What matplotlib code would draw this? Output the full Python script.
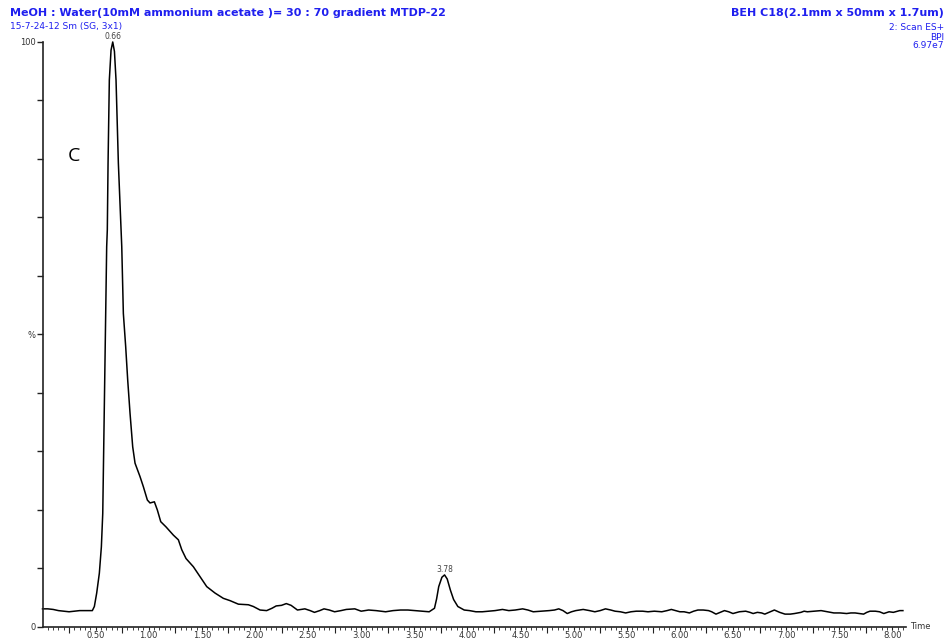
import matplotlib
matplotlib.use("Agg")
import matplotlib.pyplot as plt

# chromatogram trace (time in min, relative intensity in %)
time_min = [
    0.00, 0.05, 0.10, 0.15, 0.20, 0.25, 0.30, 0.35, 0.40, 0.46,
    0.469, 0.488, 0.51, 0.535, 0.554, 0.567, 0.576, 0.586, 0.595, 0.604,
    0.61, 0.617, 0.629, 0.645, 0.661, 0.677, 0.692, 0.714, 0.730, 0.746,
    0.761, 0.783, 0.802, 0.824, 0.849, 0.871, 0.918, 0.949, 0.987, 1.012,
    1.053, 1.081, 1.113, 1.163, 1.232, 1.279, 1.311, 1.351, 1.42, 1.483,
    1.546, 1.624, 1.702, 1.766, 1.844, 1.938, 1.985, 2.048,
    2.11, 2.16, 2.20, 2.25, 2.295, 2.34, 2.40, 2.47, 2.52, 2.56,
    2.61, 2.65, 2.70, 2.75, 2.81, 2.86, 2.94, 3.00, 3.07, 3.14,
    3.23, 3.30, 3.37, 3.44, 3.51, 3.58, 3.64, 3.69, 3.71, 3.73,
    3.76, 3.785, 3.81, 3.84, 3.87, 3.91, 3.97, 4.02, 4.08, 4.14,
    4.20, 4.26, 4.33, 4.39, 4.45, 4.52, 4.57, 4.62, 4.70, 4.77,
    4.82, 4.86, 4.90, 4.94, 4.98, 5.02, 5.09, 5.15, 5.20, 5.25,
    5.30, 5.35, 5.39, 5.44, 5.49, 5.54, 5.59, 5.65, 5.70, 5.76,
    5.83, 5.88, 5.92, 5.96, 6.00, 6.04, 6.09, 6.13, 6.17, 6.22,
    6.27, 6.30, 6.34, 6.38, 6.42, 6.46, 6.50, 6.56, 6.62, 6.66,
    6.69, 6.73, 6.77, 6.80, 6.85, 6.89, 6.94, 6.99, 7.04, 7.08,
    7.14, 7.17, 7.20, 7.26, 7.33, 7.39, 7.45, 7.51, 7.57, 7.61,
    7.65, 7.69, 7.73, 7.76, 7.79, 7.84, 7.88, 7.92, 7.97, 8.01,
    8.07, 8.10,
]
intensity = [
    3.1, 3.1, 3.0, 2.8, 2.7, 2.6, 2.7, 2.8, 2.8, 2.8,
    2.8, 3.5, 5.8, 9.2, 13.7, 19.4, 30.8, 42.2, 53.7, 65.0,
    67.9, 79.3, 93.5, 98.6, 100.0, 98.4, 93.5, 79.3, 72.0, 65.0,
    53.6, 47.9, 42.2, 36.5, 30.8, 28.0, 25.7, 24.0, 21.7, 21.2,
    21.4, 20.0, 18.0, 17.1, 15.7, 14.9, 13.2, 11.7, 10.3, 8.6,
    6.9, 5.8, 4.9, 4.5, 3.9, 3.8, 3.5, 2.9,
    2.8, 3.2, 3.6, 3.7, 4.0, 3.7, 2.9, 3.1, 2.8, 2.5,
    2.8, 3.1, 2.9, 2.6, 2.8, 3.0, 3.1, 2.7, 2.9, 2.8,
    2.6, 2.8, 2.9, 2.9, 2.8, 2.7, 2.6, 3.2, 4.8, 6.9,
    8.5, 8.9, 8.2, 6.3, 4.7, 3.5, 2.9, 2.8, 2.6, 2.6,
    2.7, 2.8, 3.0, 2.8, 2.9, 3.1, 2.9, 2.6, 2.7, 2.8,
    2.9, 3.1, 2.8, 2.3, 2.6, 2.8, 3.0, 2.8, 2.6, 2.8,
    3.1, 2.9, 2.7, 2.6, 2.4, 2.6, 2.7, 2.7, 2.6, 2.7,
    2.6, 2.8, 3.0, 2.8, 2.6, 2.6, 2.4, 2.7, 2.9, 2.9,
    2.8, 2.6, 2.2, 2.5, 2.8, 2.6, 2.3, 2.6, 2.7, 2.5,
    2.3, 2.5, 2.4, 2.2, 2.6, 2.9, 2.5, 2.2, 2.2, 2.3,
    2.5, 2.7, 2.6, 2.7, 2.8, 2.6, 2.4, 2.4, 2.3, 2.4,
    2.4, 2.3, 2.2, 2.5, 2.7, 2.7, 2.6, 2.3, 2.6, 2.5,
    2.8, 2.8,
]

# labelled peaks
peak_times = [0.661, 3.785]
peak_heights = [100.0, 8.9]
peak_labels = ["0.66", "3.78"]

x_label_pos = [0.5 * i for i in range(1, 17)]
x_labels = [f"{v:.2f}" for v in x_label_pos]
x_long_ticks = [0.25 + 0.5 * i for i in range(16)]
y_ticks = list(range(0, 101, 10))
y_labels = ["0", "", "", "", "", "%", "", "", "", "", "100"]

blue = "#1f1fef"
grey = "#333333"

fig = plt.figure(figsize=(9.47, 6.39), dpi=100)
ax = fig.add_axes([0.0449, 0.0188, 0.9119, 0.9155])

ax.plot(time_min, intensity, color="black", lw=1.1, clip_on=False)

ax.set_xlim(0, 8.13)
ax.set_ylim(0, 100)

for side in ("top", "right"):
    ax.spines[side].set_visible(False)
for side in ("left", "bottom"):
    ax.spines[side].set_linewidth(1.2)
    ax.spines[side].set_color("#222222")

# y axis
ax.set_yticks(y_ticks, y_labels)
ax.tick_params(axis="y", length=4, width=1, color="#222222", labelsize=6,
               labelcolor=grey, pad=1)

# x axis: long ticks between labels, short minor ticks every 0.05 min
ax.set_xticks(x_long_ticks, [""] * len(x_long_ticks))
ax.set_xticks([0.05 * i for i in range(1, 163)], minor=True)
ax.tick_params(axis="x", which="major", length=4, width=0.8, color="#222222")
ax.tick_params(axis="x", which="minor", length=2, width=0.6, color="#222222")

sec = ax.secondary_xaxis("bottom")
sec.set_xticks(x_label_pos, x_labels)
sec.tick_params(length=2, width=0.8, color="#222222", labelsize=6,
                labelcolor=grey, pad=1)
sec.spines["bottom"].set_visible(False)

for t, h, lab in zip(peak_times, peak_heights, peak_labels):
    ax.annotate(lab, (t, h), xytext=(0, 1), textcoords="offset points",
                ha="center", va="bottom", fontsize=5.5, color="#444444",
                annotation_clip=False)

ax.text(1.005, 0.0, "Time", transform=ax.transAxes, ha="left", va="center",
        fontsize=6, color=grey)

ax.text(0.30, 80.5, "C", fontsize=14, color="black", ha="center",
        va="center", family="Open Sans")

# header texts
fig.text(10 / 947, 1 - 13 / 639, "MeOH : Water(10mM ammonium acetate )= 30 : 70 gradient MTDP-22",
         fontsize=8, fontweight="bold", color=blue, ha="left", va="center")
fig.text(10 / 947, 1 - 27 / 639, "15-7-24-12 Sm (SG, 3x1)",
         fontsize=6.5, color=blue, ha="left", va="center")
fig.text(944 / 947, 1 - 13 / 639, "BEH C18(2.1mm x 50mm x 1.7um)",
         fontsize=8, fontweight="bold", color=blue, ha="right", va="center")
fig.text(944 / 947, 1 - 27 / 639, "2: Scan ES+",
         fontsize=6.5, color=blue, ha="right", va="center")
fig.text(944 / 947, 1 - 37 / 639, "BPI",
         fontsize=6.5, color=blue, ha="right", va="center")
fig.text(944 / 947, 1 - 46 / 639, "6.97e7",
         fontsize=6.5, color=blue, ha="right", va="center")

fig.savefig("out.png", dpi=100)
